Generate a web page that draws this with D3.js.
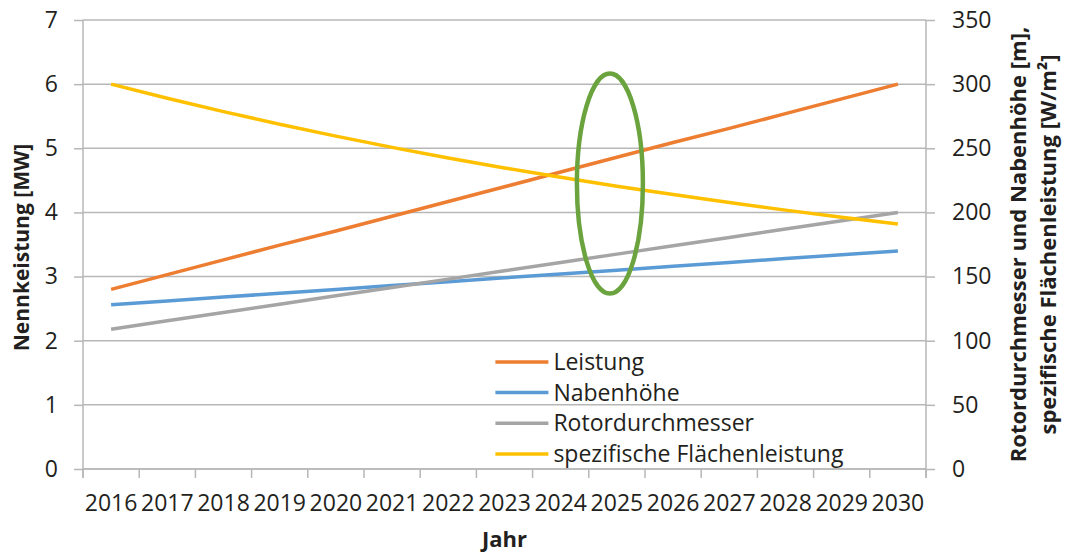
<!DOCTYPE html>
<html>
<head>
<meta charset="utf-8">
<script src="https://cdn.jsdelivr.net/npm/d3@7"></script>
<style>
  body { margin: 0; background: #fff; }
  svg text { font-family: "Open Sans", sans-serif; fill: #231f20; }
</style>
</head>
<body>
<div id="chart"></div>
<script>
// Data
const years = ["2016","2017","2018","2019","2020","2021","2022","2023","2024","2025","2026","2027","2028","2029","2030"];
const leistung = [2.80, 3.03, 3.26, 3.49, 3.71, 3.94, 4.17, 4.40, 4.63, 4.86, 5.09, 5.31, 5.54, 5.77, 6.00];      // MW, left axis
const nabenhoehe = [128, 131, 134, 137, 140, 143, 146, 149, 152, 155, 158, 161, 164, 167, 170];                 // m, right axis
const rotordurchmesser = [109, 115.5, 122, 128.5, 135, 141.5, 148, 154.5, 161, 167.5, 174, 180.5, 187, 193.5, 200]; // m, right axis
const flaechenleistung = [300, 289, 278.6, 268.8, 259.5, 250.7, 242.5, 234.7, 227.4, 220.4, 213.9, 207.7, 201.8, 196.3, 191]; // W/m², right axis
const leftTicks = [0, 1, 2, 3, 4, 5, 6, 7];
const rightTicks = [0, 50, 100, 150, 200, 250, 300, 350];

const series = [
  {name: "Leistung", values: leistung, axis: "left", color: "#ED7D31"},
  {name: "Nabenhöhe", values: nabenhoehe, axis: "right", color: "#5B9BD5"},
  {name: "Rotordurchmesser", values: rotordurchmesser, axis: "right", color: "#A5A5A5"},
  {name: "spezifische Flächenleistung", values: flaechenleistung, axis: "right", color: "#FFC000"}
];

const width = 1066, height = 556;
const margin = {top: 20, right: 140, bottom: 87, left: 83};
const innerW = width - margin.left - margin.right;
const innerH = height - margin.top - margin.bottom;

const svg = d3.select("#chart").append("svg")
  .attr("width", width)
  .attr("height", height);

const g = svg.append("g")
  .attr("transform", `translate(${margin.left}, ${margin.top})`);

const x = d3.scaleBand().domain(years).range([0, innerW]);
const yLeft = d3.scaleLinear().domain([0, 7]).range([innerH, 0]);
const yRight = d3.scaleLinear().domain([0, 350]).range([innerH, 0]);

const gridColor = "#b7b7b7";

// gridlines
g.selectAll(".grid").data(leftTicks).enter().append("line")
  .attr("x1", 0).attr("x2", innerW)
  .attr("y1", d => yLeft(d)).attr("y2", d => yLeft(d))
  .attr("stroke", gridColor).attr("stroke-width", 1.5);

// left axis
const leftAxis = g.append("g")
  .call(d3.axisLeft(yLeft).tickValues(leftTicks).tickSize(9).tickPadding(16).tickFormat(d3.format("d")));
// right axis
const rightAxis = g.append("g")
  .attr("transform", `translate(${innerW}, 0)`)
  .call(d3.axisRight(yRight).tickValues(rightTicks).tickSize(9).tickPadding(17).tickFormat(d3.format("d")));
// bottom axis with ticks at category boundaries
const bottomAxis = g.append("g")
  .attr("transform", `translate(0, ${innerH})`)
  .call(d3.axisBottom(x).tickSize(0).tickPadding(26));
bottomAxis.selectAll(".bound").data(years.concat(["end"])).enter().append("line")
  .attr("class", "bound")
  .attr("x1", (d, i) => i * x.step()).attr("x2", (d, i) => i * x.step())
  .attr("y1", 0).attr("y2", 9)
  .attr("stroke", gridColor).attr("stroke-width", 1.5);

[leftAxis, rightAxis, bottomAxis].forEach(ax => {
  ax.select(".domain").attr("stroke", gridColor).attr("stroke-width", 1.5);
  ax.selectAll(".tick line").attr("stroke", gridColor).attr("stroke-width", 1.5);
  ax.selectAll(".tick text")
    .style("font-family", "'Open Sans', sans-serif")
    .style("font-size", "23px")
    .attr("fill", "#231f20");
});
bottomAxis.select(".domain").attr("d", `M0,0H${innerW}`);
leftAxis.select(".domain").attr("d", `M0,${innerH + 9}V0`);
rightAxis.select(".domain").attr("d", `M0,${innerH + 9}V0`);

// lines
const cx = d => x(d) + x.bandwidth() / 2;
series.forEach(s => {
  const yScale = s.axis === "left" ? yLeft : yRight;
  const line = d3.line()
    .x((d, i) => cx(years[i]))
    .y(d => yScale(d));
  g.append("path")
    .datum(s.values)
    .attr("fill", "none")
    .attr("stroke", s.color)
    .attr("stroke-width", 3.5)
    .attr("d", line);
});

// green ellipse highlight around 2025
g.append("ellipse")
  .attr("cx", cx("2025") - 7)
  .attr("cy", yLeft(4.45))
  .attr("rx", 33)
  .attr("ry", 110)
  .attr("fill", "none")
  .attr("stroke", "#6BA43E")
  .attr("stroke-width", 4.5);

// legend
const legend = g.append("g").attr("transform", `translate(${x("2023") + 19}, ${yLeft(1.67)})`);
series.forEach((s, i) => {
  const row = legend.append("g").attr("transform", `translate(0, ${i * 30.7})`);
  row.append("line")
    .attr("x1", 0).attr("x2", 53)
    .attr("stroke", s.color).attr("stroke-width", 3.5);
  row.append("text")
    .attr("x", 58).attr("y", 8)
    .style("font-size", "23px")
    .text(s.name);
});

// axis titles
svg.append("text")
  .attr("transform", `translate(29, ${margin.top + innerH / 2 + 3}) rotate(-90)`)
  .attr("text-anchor", "middle")
  .style("font-size", "21px")
  .style("font-weight", "bold")
  .text("Nennkeistung [MW]");

const rt = svg.append("text")
  .attr("transform", `translate(1026, ${margin.top + innerH / 2}) rotate(-90)`)
  .attr("text-anchor", "middle")
  .style("font-size", "22px")
  .style("font-weight", "bold");
rt.append("tspan").attr("x", 0).attr("dy", 0).text("Rotordurchmesser und Nabenhöhe [m],");
rt.append("tspan").attr("x", 0).attr("dy", 30).text("spezifische Flächenleistung [W/m²]");

svg.append("text")
  .attr("x", margin.left + innerW / 2)
  .attr("y", 547)
  .attr("text-anchor", "middle")
  .style("font-size", "22px")
  .style("font-weight", "bold")
  .text("Jahr");
</script>
</body>
</html>
